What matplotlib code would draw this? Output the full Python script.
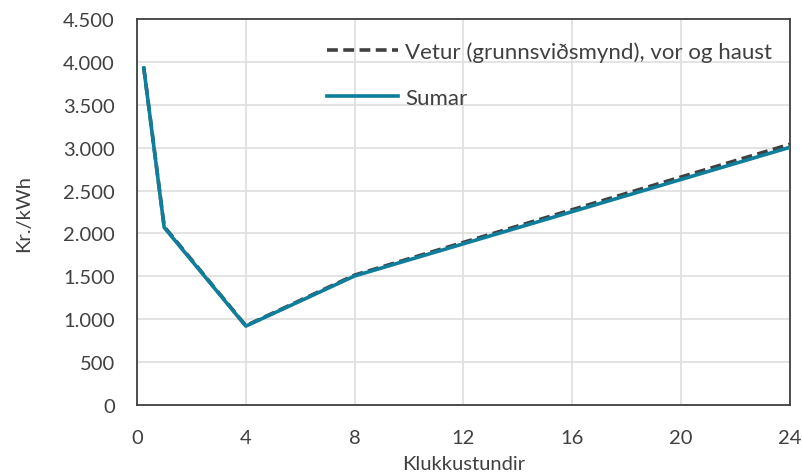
import matplotlib
matplotlib.use("Agg")
import matplotlib.pyplot as plt
from matplotlib.ticker import FuncFormatter

hours = [0.25, 1, 4, 8, 24]
vetur = [3930, 2080, 925, 1515, 3040]
sumar = [3930, 2070, 920, 1505, 3005]
x_ticks = [0, 4, 8, 12, 16, 20, 24]
y_ticks = list(range(0, 4501, 500))

plt.rcParams['font.family'] = ['Lato', 'DejaVu Sans']

fig = plt.figure(figsize=(8.03, 4.77), dpi=100)
ax = fig.add_axes([0.1706, 0.1488, 0.8132, 0.8092])

ax.plot(hours, vetur, color='#404040', lw=2.6, ls=(0, (3, 1.5)),
        label='Vetur (grunnsviðsmynd), vor og haust', zorder=3)
ax.plot(hours, sumar, color='#0F7E9C', lw=2.6, label='Sumar', zorder=4)

ax.set_xlim(0, 24)
ax.set_ylim(0, 4500)
ax.set_xticks(x_ticks)
ax.set_yticks(y_ticks)
ax.yaxis.set_major_formatter(FuncFormatter(lambda v, p: f"{int(v):,}".replace(",", ".")))
ax.grid(True, color='#e0e0e0', lw=1.3)
ax.set_axisbelow(True)
for s in ax.spines.values():
    s.set_color('#404040')
    s.set_linewidth(1.3)
ax.tick_params(length=0, labelsize=14.5, colors='#404040')
ax.tick_params(axis='x', pad=17)
ax.tick_params(axis='y', pad=16)
ax.set_xlabel('Klukkustundir', fontsize=14.5, color='#404040', labelpad=7)
ax.set_ylabel('Kr./kWh', fontsize=14.5, color='#404040', labelpad=22)

leg = ax.legend(loc='upper right', frameon=False, fontsize=16, handlelength=3.2,
                handletextpad=0.3, labelspacing=1.2, borderaxespad=0.5,
                bbox_to_anchor=(1.003, 0.995))
for t in leg.get_texts():
    t.set_color('#404040')

fig.savefig('out.png', dpi=100)
